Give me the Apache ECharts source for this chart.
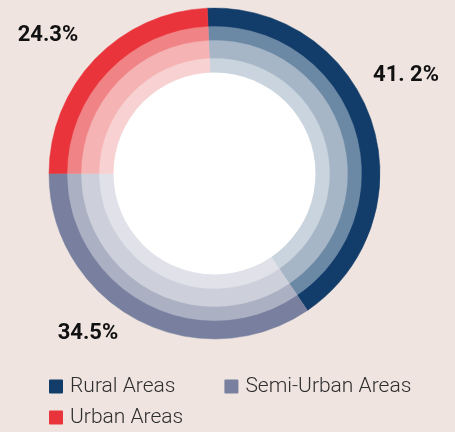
<!DOCTYPE html>
<html>
<head>
<meta charset="utf-8">
<script src="https://cdn.jsdelivr.net/npm/echarts@6/dist/echarts.min.js"></script>
<style>
  html, body { margin: 0; padding: 0; background: #efe4e0; }
  #chart { width: 455px; height: 432px; }
</style>
</head>
<body>
<div id="chart"></div>
<script>
// data
const categories = ['Rural Areas', 'Semi-Urban Areas', 'Urban Areas'];
const shares = [41.2, 34.5, 24.3];
const shareLabels = ['41. 2%', '34.5%', '24.3%'];

// ring shades, outer -> inner, per category
const shades = [
  ['#123c69', '#6b88a5', '#a6b6c6', '#c9d4de'],
  ['#79809f', '#abb0c3', '#cdd0db', '#e0e1e9'],
  ['#e8343a', '#f08385', '#f5b3b4', '#f8d2d3']
];
const ringRadii = [[146.5, 165.5], [132.5, 147], [114.5, 133], [100.5, 115]];
// where each percent label sits (text centre)
const labelSpots = [[406, 75], [88, 333], [48, 35]];

const center = [214.5, 173.5];

const chart = echarts.init(document.getElementById('chart'));

const ringSeries = ringRadii.map((r, ring) => ({
  name: 'ring' + ring,
  type: 'pie',
  center: center,
  radius: r,
  startAngle: 92.5,
  clockwise: true,
  silent: ring > 0,
  animation: false,
  emphasis: { disabled: true },
  label: ring === 0 ? {
    show: true,
    position: 'outside',
    overflow: 'none',
    alignTo: 'none',
    formatter: (p) => shareLabels[p.dataIndex],
    fontFamily: 'Roboto',
    fontWeight: 'bold',
    fontSize: 22,
    color: '#111'
  } : { show: false },
  labelLine: { show: false },
  labelLayout: ring === 0 ? (p) => ({
    x: labelSpots[p.dataIndex][0],
    y: labelSpots[p.dataIndex][1],
    align: 'center',
    verticalAlign: 'middle'
  }) : null,
  data: categories.map((c, i) => ({
    name: c,
    value: shares[i],
    itemStyle: { color: shades[i][ring], borderColor: shades[i][ring], borderWidth: 0.5 }
  }))
}));

const legendText = { fontFamily: 'Roboto', fontWeight: 300, fontSize: 21, color: '#2e2e2e', padding: [0, 0, 0, 3] };

const option = {
  backgroundColor: '#efe4e0',
  legend: [
    {
      data: categories.slice(0, 2),
      left: 49,
      top: 376,
      padding: 0,
      itemWidth: 12,
      itemHeight: 12,
      itemGap: 49,
      icon: 'rect',
      textStyle: legendText
    },
    {
      data: categories.slice(2),
      left: 49,
      top: 407,
      padding: 0,
      itemWidth: 12,
      itemHeight: 12,
      icon: 'rect',
      textStyle: legendText
    }
  ],
  series: [
    ...ringSeries,
    {
      name: 'hole',
      type: 'pie',
      center: center,
      radius: [0, 101],
      silent: true,
      animation: false,
      label: { show: false },
      labelLine: { show: false },
      itemStyle: { color: '#ffffff', borderWidth: 0 },
      data: [{ name: 'hole', value: 1 }]
    }
  ]
};

chart.setOption(option);
</script>
</body>
</html>
